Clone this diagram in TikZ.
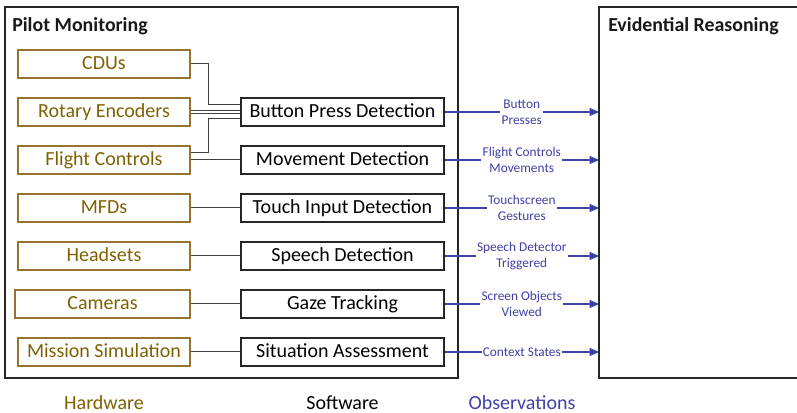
\documentclass[tikz,border=0pt]{standalone}
\usepackage{fontspec}
\setmainfont{Carlito}
\usetikzlibrary{arrows.meta}

\definecolor{hwtext}{RGB}{127,96,0}
\definecolor{hwline}{RGB}{150,116,50}
\definecolor{obsblue}{RGB}{64,64,168}
\definecolor{linkgray}{RGB}{64,64,64}

\tikzset{
  hwbox/.style={draw=hwline, line width=0.9pt, text=hwtext, minimum width=129pt, minimum height=21pt, inner sep=0pt, text height=0.9em, text depth=0.05em},
  swbox/.style={draw=black!85, line width=0.9pt, minimum width=152.25pt, minimum height=21pt, inner sep=0pt, text height=0.9em, text depth=0.05em},
  frame/.style={draw=black!85, line width=1pt},
  link/.style={draw=linkgray, line width=0.75pt},
  obs/.style={draw=obsblue, line width=0.8pt, -{Triangle[length=7pt,width=6pt]}},
  obslabel/.style={fill=white, text=obsblue, font=\fontsize{10}{12}\selectfont, align=center, inner sep=1pt},
  title/.style={font=\fontsize{14.9}{17}\selectfont\bfseries, anchor=west, inner sep=0pt, text=black!90}
}

\begin{document}
\begin{tikzpicture}[x=0.75pt, y=-0.75pt, font=\fontsize{15}{18}\selectfont]
\useasboundingbox (0,0) rectangle (797,413);

% frames
\draw[frame] (5,7) rectangle (458,378);
\draw[frame] (800,7) -- (599,7) -- (599,378) -- (800,378);
\coordinate (erleft) at (599,0);

\node[title] (pmtitle) at (12,26) {Pilot Monitoring};
\node[title] (ertitle) at (608,26) {Evidential Reasoning};

% hardware
\node[hwbox] (cdu) at (104,64) {CDUs};
\node[hwbox] (rot) at (104,112) {Rotary Encoders};
\node[hwbox] (fc) at (104,160) {Flight Controls};
\node[hwbox] (mfd) at (104,208) {MFDs};
\node[hwbox] (head) at (104,256) {Headsets};
\node[hwbox, minimum width=131.25pt] (cam) at (102.5,304) {Cameras};
\node[hwbox] (sim) at (104,352) {Mission Simulation};

% software
\node[swbox] (bpd) at (342.5,112) {Button Press Detection};
\node[swbox] (mov) at (342.5,160) {Movement Detection};
\node[swbox] (tid) at (342.5,208) {Touch Input Detection};
\node[swbox] (spd) at (342.5,256) {Speech Detection};
\node[swbox] (gaze) at (342.5,304) {Gaze Tracking};
\node[swbox] (sa) at (342.5,352) {Situation Assessment};

% hardware to software
\draw[link] (cdu.east) -- ++(18,0) |- ([yshift=5.6pt]bpd.west);
\draw[link, double=white, double distance=1pt] (rot.east) -- (bpd.west);
\draw[link] ([yshift=5.5pt]fc.east) -- ++(18,0) |- ([yshift=-4.7pt]bpd.west);
\draw[link] (fc.east) -- (mov.west);
\draw[link] (mfd) -- (tid);
\draw[link] (head) -- (spd);
\draw[link] (cam) -- (gaze);
\draw[link] (sim) -- (sa);

% observations
\draw[obs] (bpd.east) -- node[obslabel] {Button\\Presses} (bpd.east -| erleft);
\draw[obs] (mov.east) -- node[obslabel] {Flight Controls\\Movements} (mov.east -| erleft);
\draw[obs] (tid.east) -- node[obslabel] {Touchscreen\\Gestures} (tid.east -| erleft);
\draw[obs] (spd.east) -- node[obslabel] {Speech Detector\\Triggered} (spd.east -| erleft);
\draw[obs] (gaze.east) -- node[obslabel] {Screen Objects\\Viewed} (gaze.east -| erleft);
\draw[obs] (sa.east) -- node[obslabel] {Context States} (sa.east -| erleft);

% column captions
\node[text=hwtext] (hwcap) at (104,403) {Hardware};
\node (swcap) at (342.5,403) {Software};
\node[text=obsblue] (obscap) at (522,403) {Observations};
\end{tikzpicture}
\end{document}
